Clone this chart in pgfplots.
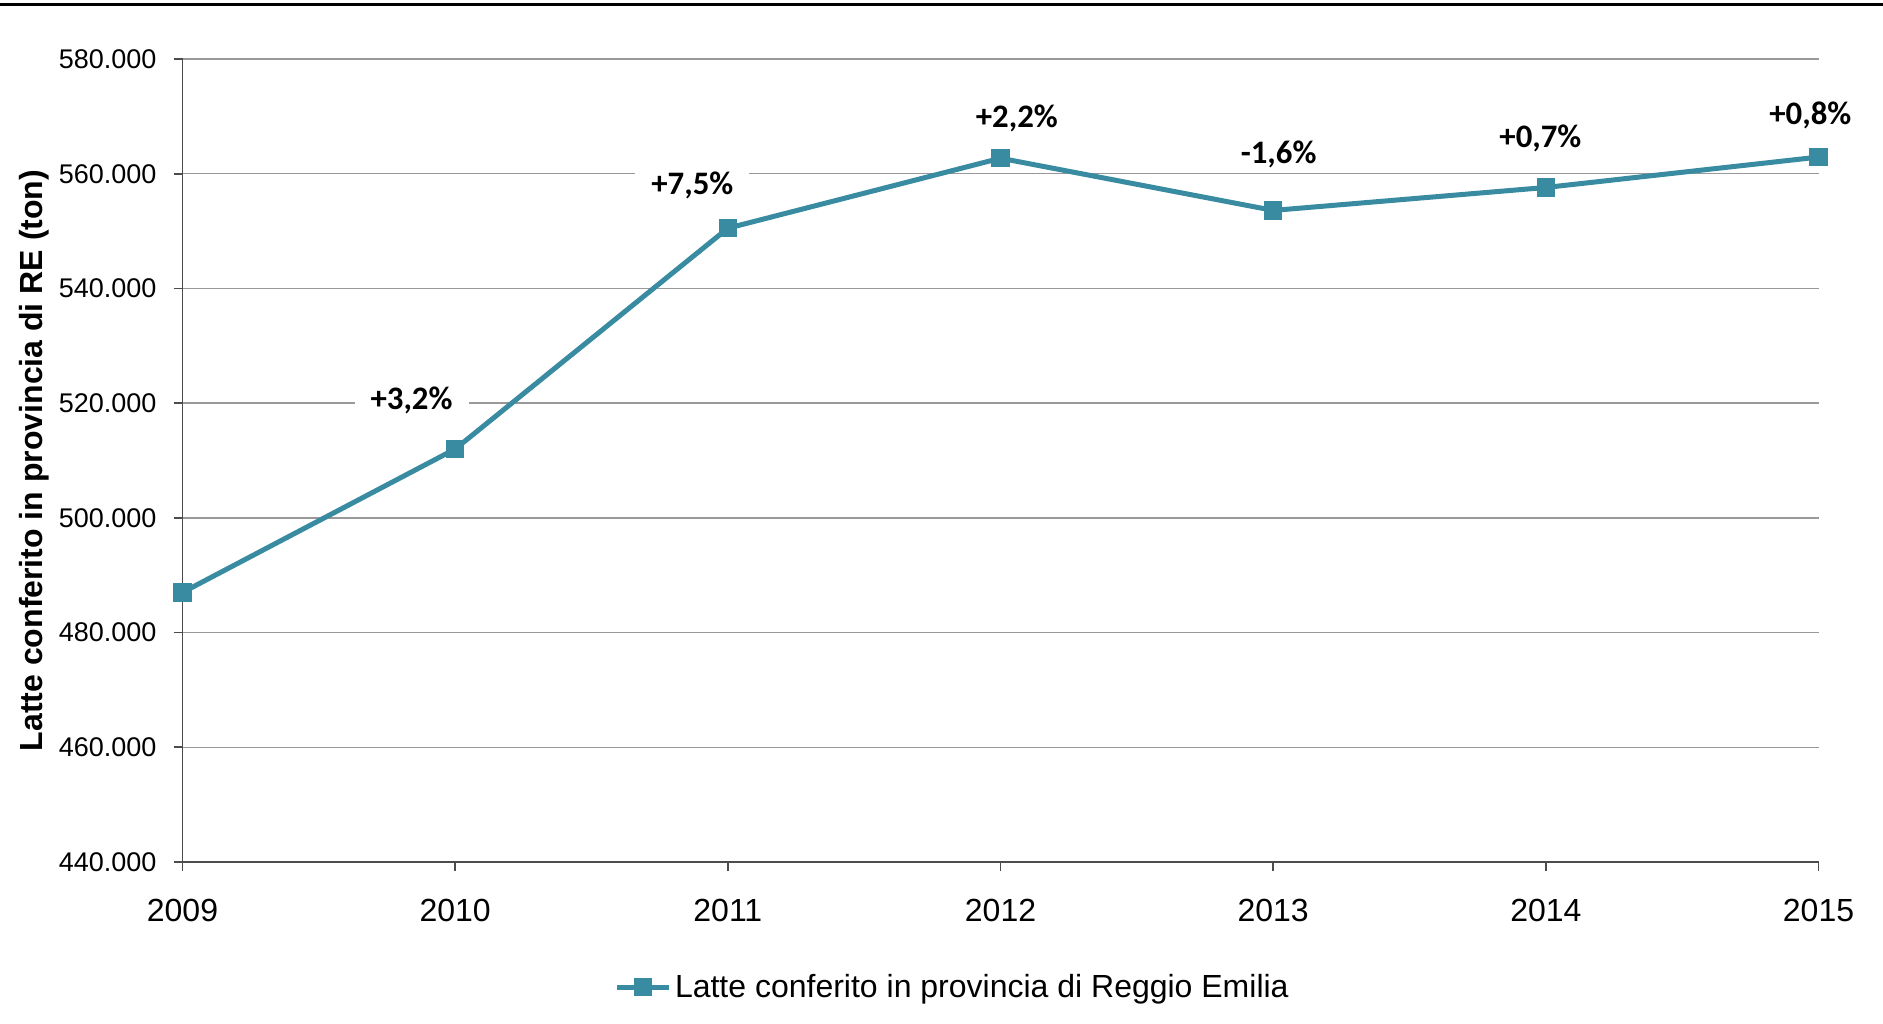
\documentclass[border=0pt]{standalone}
\usepackage{pgfplots}
\pgfplotsset{compat=1.18}
\usepackage{fontspec}
\setmainfont{Liberation Sans}
\newfontfamily\carlito{Carlito}
\definecolor{teal1}{RGB}{56,139,160}
\begin{document}
\begin{tikzpicture}
\useasboundingbox (0,0) rectangle (941.5pt,511.5pt);
\draw[line width=1.4pt, black] (0,509.2pt) -- (941.5pt,509.2pt);
\begin{axis}[
  at={(91.25pt,80.5pt)}, anchor=south west,
  scale only axis, width=818pt, height=401.5pt,
  xmin=2009, xmax=2015, ymin=440000, ymax=580000,
  clip=false, scaled y ticks=false, scaled x ticks=false,
  axis lines=left, axis line style={-, draw=black!70, line width=0.8pt},
  xtick={2009,2010,2011,2012,2013,2014,2015},
  xticklabels={2009,2010,2011,2012,2013,2014,2015},
  ytick={440000,460000,480000,500000,520000,540000,560000,580000},
  yticklabels={440.000,460.000,480.000,500.000,520.000,540.000,560.000,580.000},
  tick align=outside, major tick length=4.5pt,
  tick style={draw=black!70, line width=0.8pt},
  ymajorgrids, grid style={draw=black!40, line width=0.7pt},
  xticklabel style={font=\fontsize{16}{19}\selectfont, yshift=-10.5pt},
  yticklabel style={font=\fontsize{13.5}{16}\selectfont, xshift=-5pt},
  /pgf/number format/assume math mode=true,
  ylabel={Latte conferito in provincia di RE (ton)},
  ylabel style={at={(axis description cs:-0.0905,0.5)}, anchor=center, font=\bfseries\fontsize{16}{19}\selectfont},
  legend style={at={(0.4714,-0.156)}, anchor=center, draw=none, fill=none,
    font=\fontsize{16}{19}\selectfont, legend cell align=left,
    /tikz/every even column/.append style={column sep=0pt}},
  legend image code/.code={
    \draw[#1, mark repeat=2, mark phase=2] plot coordinates {(0cm,0cm) (0.45cm,0cm) (0.9cm,0cm)};
  },
]
\addplot[color=teal1, line width=2.5pt, mark=square*, mark size=4.3pt,
  mark options={fill=teal1, draw=teal1, line width=0pt}]
  coordinates {
  (2009,487000) (2010,512000) (2011,550500) (2012,562700)
  (2013,553600) (2014,557600) (2015,562900)
  };
\addlegendentry{Latte conferito in provincia di Reggio Emilia}
\begin{scope}[every node/.style={fill=white, inner xsep=8pt, inner ysep=2pt, font=\carlito\bfseries\fontsize{16.4}{19}\selectfont}]
\node at (axis cs:2009.84,520400) {+3,2\%};
\node at (axis cs:2010.87,558000) {+7,5\%};
\node at (axis cs:2012.06,569700) {+2,2\%};
\node at (axis cs:2013.02,563300) {-1,6\%};
\node at (axis cs:2013.98,566200) {+0,7\%};
\node at (axis cs:2014.97,570200) {+0,8\%};
\end{scope}
\end{axis}
\end{tikzpicture}
\end{document}
